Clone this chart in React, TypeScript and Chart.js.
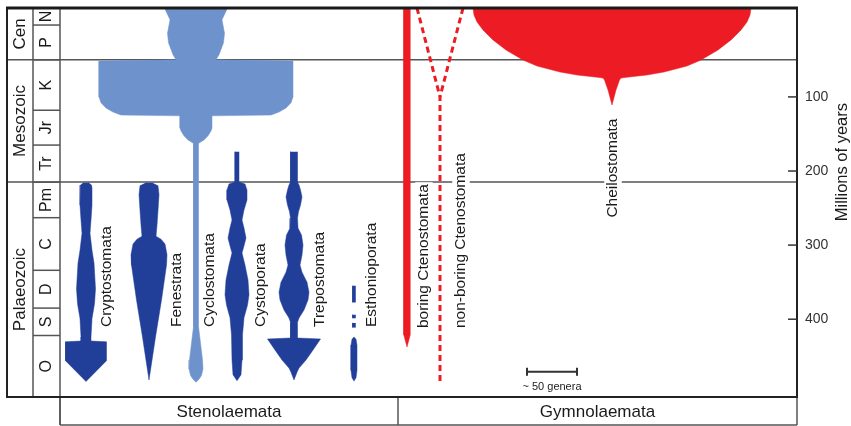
import React, { useEffect, useRef } from 'react';
import { Chart, registerables } from 'chart.js';

Chart.register(...registerables);

const FONT = '"Liberation Sans", Arial, Helvetica, sans-serif';

// ---- Time scale (Ma) ----
const eras = ['Cen', 'Mesozoic', 'Palaeozoic'];
const eraBounds = [-20, 50, 215, 505];
const periods = ['N', 'P', 'K', 'Jr', 'Tr', 'Pm', 'C', 'D', 'S', 'O'];
const periodBounds = [-20, 3, 50, 118, 165, 215, 263, 334, 385, 422, 505];
const yTicks = [100, 200, 300, 400];
const yTitle = 'Millions of years';

// ---- Classes along the genera axis ----
const classes = ['Stenolaemata', 'Gymnolaemata'];
const classBounds = [0, 338, 737];

// ---- Taxa ----
const taxa = [
  'Cryptostomata', 'Fenestrata', 'Cyclostomata', 'Cystoporata', 'Trepostomata',
  'Esthonioporata', 'boring Ctenostomata', 'non-boring Ctenostomata', 'Cheilostomata',
];
const taxonCenters = [26, 89, 136, 177, 234, 294, 347, 380, 552];

// number of genera (full spindle width) through time
const cryptoAges = [216, 219, 223, 246, 266, 284, 307, 324, 359, 379, 399, 424, 429.5, 430.5, 456, 484];
const cryptoWidths = [5, 11, 12, 12, 10, 8, 12, 16, 19, 17, 12, 10, 10, 41, 41, 0];

const fenAges = [216, 220, 232, 253, 273, 288, 292, 298.5, 313, 327, 374, 424, 482];
const fenWidths = [6, 18, 20, 18, 16, 14, 24, 32, 36, 35, 25, 13, 0];

const cycloAges = [-20, -4, 14, 27, 43, 50, 51.5, 100, 108, 115, 120.5, 124.5, 125.5, 142, 146, 152.5, 158, 161, 163, 410, 432, 455, 467, 476, 481, 485];
const cycloWidths = [63, 52, 57, 55, 46, 40, 194, 194, 190, 180, 166, 150, 32, 32, 30, 24, 16, 9, 5, 5, 9, 13, 14, 11, 6, 0];

const cystoAges = [174, 215, 217.5, 225.5, 239, 252.5, 266, 277, 290.5, 301, 310.5, 327, 347, 367, 381, 398, 421, 455, 475, 483];
const cystoWidths = [4, 4, 16, 20, 20, 14, 10, 14, 18, 14, 10, 16, 22, 24, 21, 14, 11, 10, 8, 0];

const trepoAges = [174, 215, 219, 225.5, 235, 246, 255, 263.5, 277, 286.5, 300, 313.5, 327, 336.5, 350, 363.5, 374, 387.5, 398.5, 404, 425.4, 426.7, 441.6, 455, 466, 471.5, 482];
const trepoWidths = [7, 7, 10, 13, 16, 13, 9, 7, 8, 15, 18, 16, 12, 16, 26, 30, 28, 20, 10, 7, 7, 53, 38, 24, 10, 6, 0];

const esthAges = [[355, 377], [394, 398.5], [405, 411], [424, 427, 435, 469, 479, 483.5]];
const esthWidths = [[3, 3], [3, 3], [3, 3], [0, 4, 6, 6, 4, 0]];

const boringAges = [-20, 421, 437.5];
const boringWidths = [6.5, 6.5, 0];

const nonBoringAges = [-20, 100, 486];
const nonBoringWidths = [46, 0, 0];

const cheiloAges = [-20, -10.6, -1.1, 9.7, 23.2, 36.7, 50.2, 58.3, 66.4, 70.4, 73.1, 74.5, 77.2, 90.7, 110.9];
const cheiloWidths = [278, 276, 270, 258, 238, 212, 178, 150, 104, 70, 34, 18, 15, 8, 0];

// label anchors (genera axis, Ma)
const labelX = [47, 117, 149.5, 201, 260, 311.5, 364, 401, 553];
const labelAge = [410.5, 410.5, 410.5, 410.5, 410.5, 410.5, 412, 412, 196];

// scale bar
const scaleBarX = 467;
const scaleBarGenera = 50;
const scaleBarAge = 471;
const scaleBarLabel = '~ 50 genera';

const DARK = '#213F99';
const LIGHT = '#6E92CC';
const RED = '#ED1C24';
const taxonColors = [DARK, DARK, LIGHT, DARK, DARK, DARK, RED, RED, RED];

function outline(center: number, ages: number[], widths: number[]) {
  const left = ages.map((a, i) => ({ x: center - widths[i] / 2, y: a }));
  const right = ages.map((a, i) => ({ x: center + widths[i] / 2, y: a })).reverse();
  return [...left, ...right];
}

function spindle(idx: number, ages: number[], widths: number[]) {
  const c = taxonColors[idx];
  return {
    label: taxa[idx],
    data: outline(taxonCenters[idx], ages, widths),
    fill: 'shape',
    backgroundColor: c,
    borderColor: c,
    borderWidth: 0.5,
    pointRadius: 0,
    tension: 0,
  };
}

function edge(idx: number, ages: number[], widths: number[], side: number) {
  const pts: { x: number; y: number }[] = [];
  for (let i = 0; i < ages.length; i++) {
    pts.push({ x: taxonCenters[idx] + (side * widths[i]) / 2, y: ages[i] });
    if (side > 0 && widths[i] === 0) break;
  }
  return {
    label: taxa[idx],
    data: pts,
    fill: false,
    borderColor: taxonColors[idx],
    borderWidth: 3,
    borderDash: [6, 4],
    pointRadius: 0,
    tension: 0,
  };
}

const FRAME_LEFT = 7;
const PERIOD_LEFT = 33;
const CLASS_ROW_BOTTOM = 425;

function hline(ctx: CanvasRenderingContext2D, x1: number, x2: number, y: number) {
  ctx.beginPath();
  ctx.moveTo(x1, y);
  ctx.lineTo(x2, y);
  ctx.stroke();
}
function vline(ctx: CanvasRenderingContext2D, x: number, y1: number, y2: number) {
  ctx.beginPath();
  ctx.moveTo(x, y1);
  ctx.lineTo(x, y2);
  ctx.stroke();
}
function vText(ctx: CanvasRenderingContext2D, text: string, x: number, y: number, align: CanvasTextAlign, size: number, bg: boolean) {
  ctx.save();
  ctx.translate(x, y);
  ctx.rotate(-Math.PI / 2);
  ctx.font = `${size}px ${FONT}`;
  ctx.textAlign = align;
  ctx.textBaseline = 'middle';
  if (bg) {
    const w = ctx.measureText(text).width;
    const x0 = align === 'left' ? 0 : align === 'center' ? -w / 2 : -w;
    ctx.fillStyle = '#fff';
    ctx.fillRect(x0 - 2, -size / 2 - 1, w + 4, size + 2);
  }
  ctx.fillStyle = '#1a1a1a';
  ctx.fillText(text, 0, 0);
  ctx.restore();
}

const decor = {
  id: 'decor',
  beforeDatasetsDraw(chart: any) {
    const { ctx, chartArea: ca, scales } = chart;
    const ys = scales.y;
    ctx.save();
    ctx.strokeStyle = '#555';
    ctx.lineWidth = 1.5;
    eraBounds.slice(1, -1).forEach((b) => hline(ctx, FRAME_LEFT, ca.right, ys.getPixelForValue(b)));
    periodBounds.slice(1, -1).forEach((b) => hline(ctx, PERIOD_LEFT, ca.left, ys.getPixelForValue(b)));
    ctx.restore();
  },
  afterDatasetsDraw(chart: any) {
    const { ctx, chartArea: ca, scales } = chart;
    const xs = scales.x;
    const ys = scales.y;
    ctx.save();

    // columns of the time scale
    ctx.strokeStyle = '#555';
    ctx.lineWidth = 1.5;
    vline(ctx, PERIOD_LEFT, ca.top, ca.bottom);
    vline(ctx, ca.left, ca.top, CLASS_ROW_BOTTOM);

    eras.forEach((e, i) => {
      const yc = (ys.getPixelForValue(eraBounds[i]) + ys.getPixelForValue(eraBounds[i + 1])) / 2;
      vText(ctx, e, (FRAME_LEFT + PERIOD_LEFT) / 2 + 0.5, yc, 'center', 17, false);
    });
    periods.forEach((p, i) => {
      const yc = (ys.getPixelForValue(periodBounds[i]) + ys.getPixelForValue(periodBounds[i + 1])) / 2;
      vText(ctx, p, (PERIOD_LEFT + ca.left) / 2 + 0.5, yc, 'center', 16, false);
    });

    // class row
    ctx.strokeStyle = '#555';
    ctx.lineWidth = 1.5;
    hline(ctx, ca.left, ca.right, CLASS_ROW_BOTTOM);
    classBounds.forEach((b) => vline(ctx, xs.getPixelForValue(b), ca.bottom, CLASS_ROW_BOTTOM));
    ctx.font = `17px ${FONT}`;
    ctx.textAlign = 'center';
    ctx.textBaseline = 'middle';
    ctx.fillStyle = '#1a1a1a';
    classes.forEach((c, i) => {
      const xc = (xs.getPixelForValue(classBounds[i]) + xs.getPixelForValue(classBounds[i + 1])) / 2;
      ctx.fillText(c, xc, (ca.bottom + CLASS_ROW_BOTTOM) / 2 + 1);
    });

    // frame
    ctx.strokeStyle = '#222';
    ctx.lineWidth = 2;
    vline(ctx, FRAME_LEFT, ca.top, ca.bottom + 1);
    vline(ctx, ca.right, ca.top, ca.bottom + 1);
    hline(ctx, FRAME_LEFT, ca.right + 1, ca.bottom);
    ctx.lineWidth = 3;
    ctx.strokeStyle = '#1a1a1a';
    hline(ctx, FRAME_LEFT - 1, ca.right + 1, ca.top);

    // inward ticks
    ctx.lineWidth = 1.5;
    ctx.strokeStyle = '#333';
    yTicks.forEach((t) => hline(ctx, ca.right - 9, ca.right, ys.getPixelForValue(t)));

    // axis title
    vText(ctx, yTitle, 842, ys.getPixelForValue(188), 'center', 16.5, false);

    // taxon labels
    taxa.forEach((t, i) => {
      const centered = i === taxa.length - 1;
      vText(ctx, t, xs.getPixelForValue(labelX[i]), ys.getPixelForValue(labelAge[i]), centered ? 'center' : 'left', 15.5, true);
    });

    // scale bar
    const sx1 = xs.getPixelForValue(scaleBarX);
    const sx2 = xs.getPixelForValue(scaleBarX + scaleBarGenera);
    const sy = ys.getPixelForValue(scaleBarAge);
    ctx.strokeStyle = '#333';
    ctx.lineWidth = 2;
    hline(ctx, sx1, sx2, sy);
    vline(ctx, sx1, sy - 4, sy + 4);
    vline(ctx, sx2, sy - 4, sy + 4);
    ctx.font = `11px ${FONT}`;
    ctx.fillStyle = '#222';
    ctx.textAlign = 'center';
    ctx.textBaseline = 'middle';
    ctx.fillText(scaleBarLabel, (sx1 + sx2) / 2, sy + 15);

    ctx.restore();
  },
};

export default function App() {
  const ref = useRef<HTMLCanvasElement | null>(null);
  useEffect(() => {
    const canvas = ref.current;
    if (!canvas) return;
    const datasets: any[] = [
      spindle(0, cryptoAges, cryptoWidths),
      spindle(1, fenAges, fenWidths),
      spindle(2, cycloAges, cycloWidths),
      spindle(3, cystoAges, cystoWidths),
      spindle(4, trepoAges, trepoWidths),
      ...esthAges.map((a, k) => spindle(5, a, esthWidths[k])),
      spindle(6, boringAges, boringWidths),
      edge(7, nonBoringAges, nonBoringWidths, -1),
      edge(7, nonBoringAges, nonBoringWidths, 1),
      spindle(8, cheiloAges, cheiloWidths),
    ];
    const chart = new Chart(canvas, {
      type: 'line',
      data: { datasets },
      options: {
        animation: false,
        responsive: false,
        devicePixelRatio: 1,
        events: [],
        layout: { padding: { left: 60, top: 8, right: 0, bottom: 29 } },
        plugins: { legend: { display: false }, tooltip: { enabled: false } },
        scales: {
          x: { type: 'linear', display: false, min: 0, max: 737 },
          y: {
            type: 'linear',
            position: 'right',
            reverse: true,
            min: -20,
            max: 505,
            afterBuildTicks: (s: any) => {
              s.ticks = yTicks.map((v) => ({ value: v }));
            },
            afterFit: (s: any) => {
              s.width = 54;
              s.paddingTop = 0;
              s.paddingBottom = 0;
            },
            grid: { display: false, drawTicks: false, tickLength: 0 },
            border: { display: false },
            ticks: { padding: 8, color: '#333', font: { family: FONT, size: 14 } },
          },
        },
      } as any,
      plugins: [decor],
    });
    return () => chart.destroy();
  }, []);
  return (
    <div style={{ position: 'fixed', left: 0, top: 0, width: 851, height: 426, background: '#fff' }}>
      <canvas ref={ref} width={851} height={426} style={{ display: 'block' }} />
    </div>
  );
}
